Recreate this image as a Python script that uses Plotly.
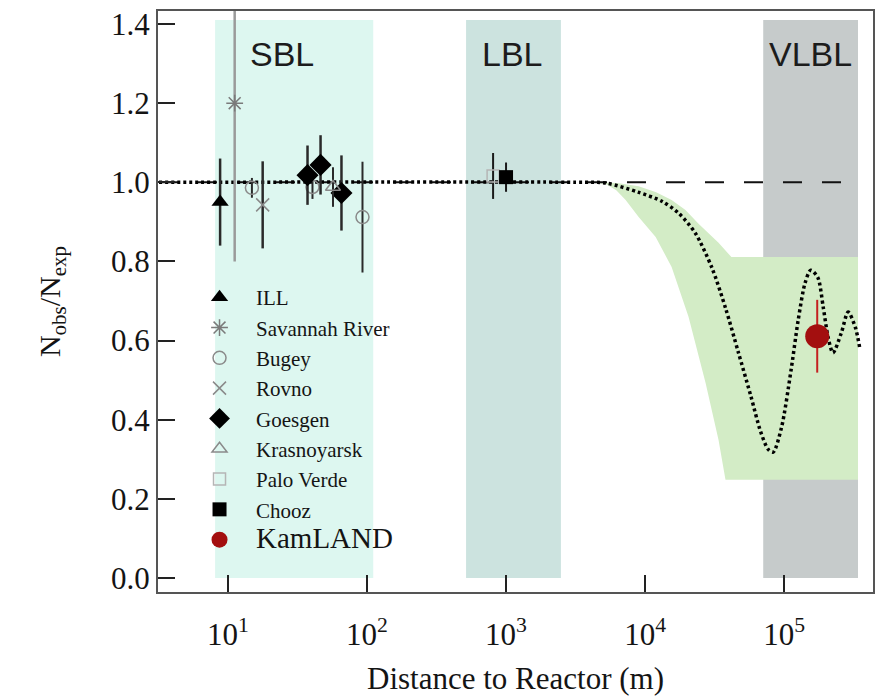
import numpy as np
import plotly.graph_objects as go

# ---- measurements: distance (m), ratio Nobs/Nexp, total error ----
ill_L, ill_R, ill_E = [8.8], [0.95], [0.11]
sav_L, sav_R, sav_E = [11.2], [1.20], [0.40]
bugey_L, bugey_R, bugey_E = [14.9, 40.6, 92.9], [0.986, 0.988, 0.912], [0.025, 0.03, 0.14]
rovno_L, rovno_R, rovno_E = [17.8], [0.943], [0.11]
goes_L, goes_R, goes_E = [37.4, 46.4, 65.6], [1.018, 1.044, 0.973], [0.075, 0.075, 0.095]
kras_L, kras_R, kras_E = [57.0], [0.988], [0.05]
pv_L, pv_R, pv_E = [807], [1.016], [0.058]
chooz_L, chooz_R, chooz_E = [1000], [1.013], [0.037]
kam_L, kam_R, kam_E = [172600], [0.611], [0.092]

# ---- oscillation expectation (best fit) ----
osc_L = [3.2, 3160, 5250, 8900, 13200, 17400, 22900, 30200, 38000, 46800, 57500,
         67600, 76700, 83200, 95500, 112000, 126000, 141000, 155000, 174000,
         190500, 206500, 224000, 257000, 288000, 324000, 351000]
osc_R = [1.0, 1.0, 0.998, 0.975, 0.952, 0.922, 0.872, 0.784, 0.68, 0.57, 0.46,
         0.37, 0.325, 0.318, 0.38, 0.526, 0.652, 0.745, 0.778, 0.76,
         0.685, 0.609, 0.569, 0.619, 0.672, 0.634, 0.576]

# ---- allowed band (upper and lower edges) ----
band_up_L = [3800, 6300, 8980, 12000, 15500, 19500, 24200, 33700, 41700, 339000]
band_up_R = [1.0, 0.998, 0.99, 0.975, 0.955, 0.93, 0.895, 0.847, 0.811, 0.811]
band_lo_L = [3800, 5210, 6200, 7240, 8980, 11900, 15500, 20500, 27200, 33700, 37800, 339000]
band_lo_R = [1.0, 0.996, 0.98, 0.955, 0.912, 0.862, 0.786, 0.66, 0.493, 0.349, 0.248, 0.248]

# ---- baseline regions ----
region_names = ["SBL", "LBL", "VLBL"]
region_lo = [8.1, 516, 70600]
region_hi = [111, 2480, 339000]
region_top = 1.41
region_colors = ["#ddf7f0", "#cce3df", "#c6cbcb"]
region_label_L = [24.5, 1120, 155000]

SERIF = "Liberation Serif"
SANS = "Liberation Sans"
INK = "#141414"

fig = go.Figure()

# shaded baseline regions
for lo, hi, col in zip(region_lo, region_hi, region_colors):
    fig.add_trace(go.Scatter(
        x=[lo, hi, hi, lo, lo], y=[0, 0, region_top, region_top, 0],
        mode="lines", fill="toself", fillcolor=col,
        line=dict(width=0, color=col), hoverinfo="skip", showlegend=False))

# allowed band
fig.add_trace(go.Scatter(
    x=band_up_L + band_lo_L[::-1], y=band_up_R + band_lo_R[::-1],
    mode="lines", fill="toself", fillcolor="#d3ecc6",
    line=dict(width=0, color="#d3ecc6"),
    hoverinfo="skip", showlegend=False))

# no-oscillation reference
fig.add_trace(go.Scatter(
    x=[3.2, 339000], y=[1.0, 1.0], mode="lines",
    line=dict(color="#111111", width=2, dash="19px,20px"),
    hoverinfo="skip", showlegend=False))

# oscillation curve
fig.add_trace(go.Scatter(
    x=osc_L, y=osc_R, mode="lines",
    line=dict(color="#000000", width=3.5, dash="3px,3px", shape="spline", smoothing=0.8),
    hoverinfo="skip", showlegend=False))


def add_exp(name, L, R, E, symbol, size, color, ecolor, ewidth=2.5, lw=0):
    fig.add_trace(go.Scatter(
        x=L, y=R, mode="markers", name=name,
        marker=dict(symbol=symbol, size=size, color=color,
                    line=dict(color=color, width=lw)),
        error_y=dict(type="data", array=E, visible=True, color=ecolor,
                     thickness=ewidth, width=0)))


add_exp("ILL", ill_L, ill_R, ill_E, "triangle-up", 15, "#000000", "#2a2a2a")
add_exp("Savannah River", sav_L, sav_R, sav_E, "asterisk-open", 14, "#7a7a7a", "#9a9a9a", lw=1.5)
add_exp("Bugey", bugey_L, bugey_R, bugey_E, "circle-open", 13, "#8a8a8a", "#2a2a2a", ewidth=2, lw=1.5)
add_exp("Rovno", rovno_L, rovno_R, rovno_E, "x-thin-open", 13, "#8a8a8a", "#2a2a2a", lw=1.5)
add_exp("Goesgen", goes_L, goes_R, goes_E, "diamond", 17, "#000000", "#2a2a2a")
add_exp("Krasnoyarsk", kras_L, kras_R, kras_E, "triangle-up-open", 13, "#8a8a8a", "#2a2a2a", ewidth=2, lw=1.5)
add_exp("Palo Verde", pv_L, pv_R, pv_E, "square-open", 12, "#b5b5b5", "#1a1a1a", ewidth=2, lw=1.5)
add_exp("Chooz", chooz_L, chooz_R, chooz_E, "square", 14, "#000000", "#1a1a1a", ewidth=2)
add_exp('<span style="font-size:29px">KamLAND</span>', kam_L, kam_R, kam_E,
        "circle", 24, "#a30f0f", "#c42020", ewidth=2)

# region labels (annotation x on a log axis is given as log10)
for name, pos in zip(region_names, region_label_L):
    fig.add_annotation(x=np.log10(pos), y=1.325, xref="x", yref="y", text=name,
                       showarrow=False, font=dict(family=SANS, size=34, color="#1c1c1c"))

fig.update_layout(
    width=880, height=699,
    margin=dict(l=158, r=5, t=11, b=107),
    paper_bgcolor="white", plot_bgcolor="white",
    showlegend=True,
    legend=dict(x=0.035, y=0.542, xanchor="left", yanchor="top",
                bgcolor="rgba(0,0,0,0)", itemwidth=63,
                font=dict(family=SERIF, size=21, color=INK)),
    xaxis=dict(type="log", range=[0.498, 5.638],
               tickvals=[10, 100, 1000, 10000, 100000],
               ticktext=["10<sup>1</sup>", "10<sup>2</sup>", "10<sup>3</sup>",
                         "10<sup>4</sup>", "10<sup>5</sup>"],
               ticks="inside", ticklen=17, tickwidth=2, tickcolor="#222222",
               ticklabelstandoff=14,
               showline=True, linecolor="#555555", linewidth=2, mirror=True,
               showgrid=False, zeroline=False,
               tickfont=dict(family=SERIF, size=31, color=INK),
               title=dict(text="Distance to Reactor (m)", standoff=16,
                          font=dict(family=SERIF, size=31, color=INK))),
    yaxis=dict(range=[-0.0354, 1.4329],
               tickvals=[0, 0.2, 0.4, 0.6, 0.8, 1.0, 1.2, 1.4],
               tickformat=".1f",
               ticks="inside", ticklen=17, tickwidth=2, tickcolor="#222222",
               showline=True, linecolor="#555555", linewidth=2, mirror=True,
               showgrid=False, zeroline=False,
               tickfont=dict(family=SERIF, size=31, color=INK),
               title=dict(text="N<sub>obs</sub>/N<sub>exp</sub>", standoff=42,
                          font=dict(family=SERIF, size=30, color=INK))),
)

fig.write_html("out.html")
